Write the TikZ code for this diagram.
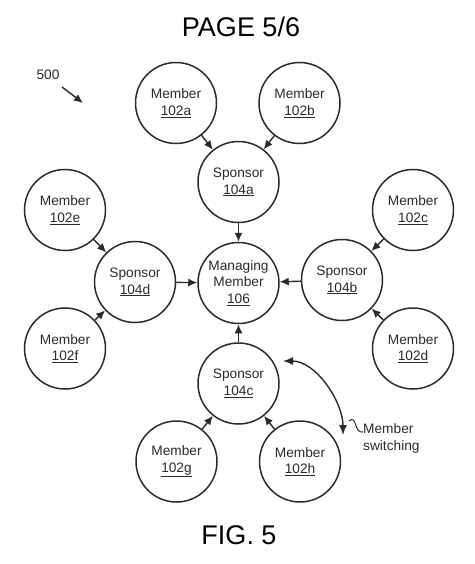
\documentclass[tikz,border=0pt]{standalone}
\usepackage{fontspec}
\setmainfont{Liberation Sans}
\usetikzlibrary{arrows.meta}
\definecolor{ink}{HTML}{2B2B2B}
\begin{document}
\begin{tikzpicture}[x=1pt,y=-1pt,
  circ/.style={circle,draw=ink,line width=1.5pt,minimum size=81pt,inner sep=0pt,
    align=center,text=ink,font=\fontsize{13.7}{16.7}\selectfont},
  conn/.style={draw=ink,line width=1.4pt,-{Latex[length=9pt,width=8pt]}},
  bigtext/.style={text=black,font=\fontsize{27}{30}\selectfont,inner sep=0pt},
  smalltext/.style={text=ink,font=\fontsize{13.7}{16.7}\selectfont,inner sep=0pt}]
\useasboundingbox (0,0) rectangle (474,564);

\node[bigtext] (title) at (241,27) {PAGE 5/6};
\node[bigtext] (fig) at (239,535) {FIG. 5};
\node[smalltext] (ref) at (48,75) {500};
\coordinate (refs) at (62,87);
\coordinate (refe) at (83,103);
\draw[conn] (refs) -- (refe);

\node[circ] (m) at (238.5,283) {Managing\\Member\\\underline{106}};
\node[circ] (sa) at (238.5,182) {Sponsor\\\underline{104a}};
\node[circ] (sb) at (342,280) {Sponsor\\\underline{104b}};
\node[circ] (sc) at (238.5,383.5) {Sponsor\\\underline{104c}};
\node[circ] (sd) at (135,282) {Sponsor\\\underline{104d}};

\node[circ] (ma) at (176,103) {Member\\\underline{102a}};
\node[circ] (mb) at (299.5,103) {Member\\\underline{102b}};
\node[circ] (mc) at (413,210) {Member\\\underline{102c}};
\node[circ] (md) at (413,348.5) {Member\\\underline{102d}};
\node[circ] (me) at (65,210) {Member\\\underline{102e}};
\node[circ] (mf) at (65,348.5) {Member\\\underline{102f}};
\node[circ] (mg) at (176.5,461.5) {Member\\\underline{102g}};
\node[circ] (mh) at (300,461.5) {Member\\\underline{102h}};

\draw[conn] (sa) -- (m);
\draw[conn] (sb) -- (m);
\draw[conn] (sc) -- (m);
\draw[conn] (sd) -- (m);
\draw[conn] (ma) -- (sa);
\draw[conn] (mb) -- (sa);
\draw[conn] (mc) -- (sb);
\draw[conn] (md) -- (sb);
\draw[conn] (me) -- (sd);
\draw[conn] (mf) -- (sd);
\draw[conn] (mg) -- (sc);
\draw[conn] (mh) -- (sc);

\coordinate (sw1) at (283,361);
\coordinate (sw2) at (343,435);
\draw[draw=ink,line width=1.4pt,{Latex[length=10pt,width=8pt]}-{Latex[length=10pt,width=8pt]}]
  (sw1) .. controls (316,361) and (343,402) .. (sw2);
\coordinate (sq1) at (349,421);
\coordinate (sq2) at (363,432);
\draw[draw=ink,line width=1pt] (sq1) .. controls (357,414) and (354,434) .. (sq2);
\node[smalltext,anchor=west,align=left] (swl) at (363,438.5) {Member\\switching};
\end{tikzpicture}
\end{document}
